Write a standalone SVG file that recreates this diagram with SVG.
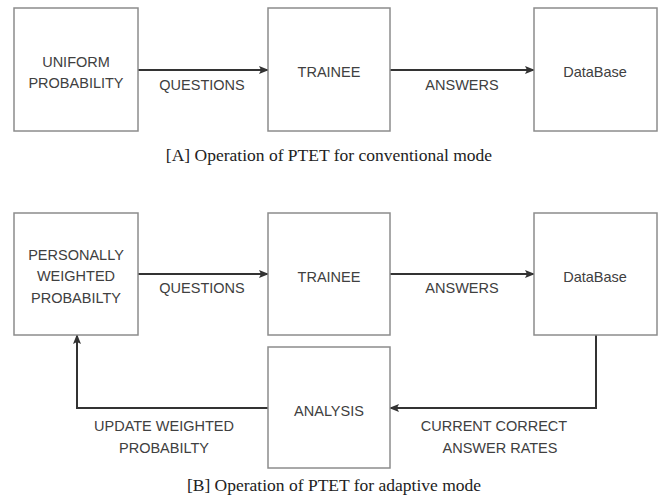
<svg xmlns="http://www.w3.org/2000/svg" width="662" height="500" viewBox="0 0 662 500">
  <defs>
    <marker id="arr" markerWidth="10" markerHeight="8" refX="9" refY="4" orient="auto" markerUnits="userSpaceOnUse">
      <path d="M0,0 L10,4 L0,8 L2,4 z" fill="#333"/>
    </marker>
  </defs>
  <style>
    .box { fill: #fff; stroke: #8c8c8c; stroke-width: 1.5; }
    .lbl { font-family: "Liberation Sans", Arial, sans-serif; font-size: 14.5px; fill: #404040; text-anchor: middle; }
    .cap { font-family: "Liberation Serif", "Times New Roman", serif; font-size: 17.5px; fill: #222; text-anchor: middle; }
    .edge { fill: none; stroke: #333; stroke-width: 2; marker-end: url(#arr); }
  </style>
  <rect width="662" height="500" fill="#fff"/>

  <g id="connectors">
    <line class="edge" x1="138" y1="70" x2="268" y2="70"/>
    <line class="edge" x1="390" y1="70" x2="534" y2="70"/>
    <line class="edge" x1="138" y1="274" x2="268" y2="274"/>
    <line class="edge" x1="390" y1="274" x2="534" y2="274"/>
    <polyline class="edge" points="596,335 596,408 390,408"/>
    <polyline class="edge" points="268,408 77,408 77,335"/>
    <text class="lbl" x="202" y="90">QUESTIONS</text>
    <text class="lbl" x="462" y="90">ANSWERS</text>
    <text class="lbl" x="202" y="292.5">QUESTIONS</text>
    <text class="lbl" x="462" y="292.5">ANSWERS</text>
    <text class="lbl" x="164" y="431">UPDATE WEIGHTED</text>
    <text class="lbl" x="164" y="452.5">PROBABILTY</text>
    <text class="lbl" x="494" y="431">CURRENT CORRECT</text>
    <text class="lbl" x="500" y="452.5">ANSWER RATES</text>
  </g>

  <g id="a-uniform">
    <rect class="box" x="14" y="8" width="124" height="123"/>
    <text class="lbl" x="76" y="67">UNIFORM</text>
    <text class="lbl" x="76" y="87.5">PROBABILITY</text>
  </g>
  <g id="a-trainee">
    <rect class="box" x="268" y="8" width="122" height="123"/>
    <text class="lbl" x="329" y="77">TRAINEE</text>
  </g>
  <g id="a-database">
    <rect class="box" x="534" y="8" width="123" height="123"/>
    <text class="lbl" x="595" y="77">DataBase</text>
  </g>
  <text class="cap" x="329" y="161">[A] Operation of PTET for conventional mode</text>

  <g id="b-weighted">
    <rect class="box" x="14" y="213" width="124" height="122"/>
    <text class="lbl" x="76" y="260">PERSONALLY</text>
    <text class="lbl" x="76" y="281">WEIGHTED</text>
    <text class="lbl" x="76" y="302.5">PROBABILTY</text>
  </g>
  <g id="b-trainee">
    <rect class="box" x="268" y="213" width="122" height="122"/>
    <text class="lbl" x="329" y="281.5">TRAINEE</text>
  </g>
  <g id="b-database">
    <rect class="box" x="534" y="213" width="123" height="122"/>
    <text class="lbl" x="595" y="281.5">DataBase</text>
  </g>
  <g id="b-analysis">
    <rect class="box" x="268" y="347" width="122" height="121"/>
    <text class="lbl" x="329" y="416">ANALYSIS</text>
  </g>
  <text class="cap" x="334" y="491">[B] Operation of PTET for adaptive mode</text>
</svg>
